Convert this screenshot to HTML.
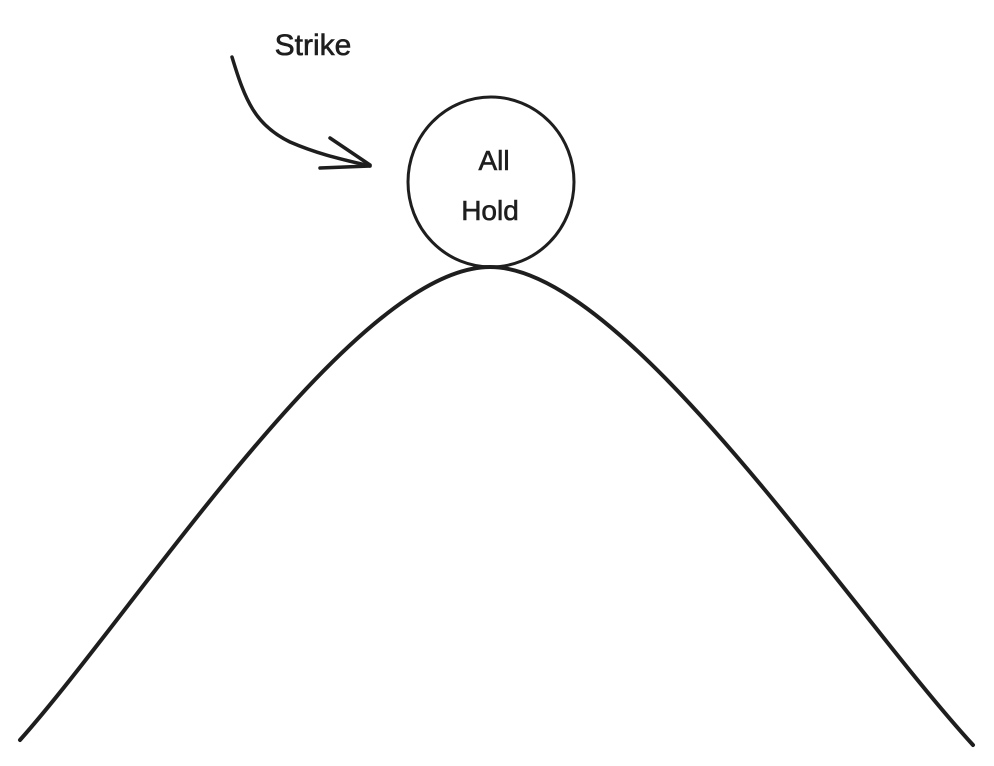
<!DOCTYPE html>
<html><head><meta charset="utf-8"><style>
html,body{margin:0;padding:0;background:#fff;}
svg{display:block}
text{font-family:"Liberation Sans",sans-serif;fill:#1e1e1e;stroke:#1e1e1e;stroke-width:0.6}
</style></head><body>
<svg width="994" height="766" viewBox="0 0 994 766">
  <path d="M20,740 C140,605 355,267 490,267 C625,267 845,605 973,745" fill="none" stroke="#1e1e1e" stroke-width="4" stroke-linecap="round"/>
  <ellipse cx="491" cy="182" rx="83" ry="85" fill="none" stroke="#1e1e1e" stroke-width="3"/>
  <text x="494" y="170" font-size="28" text-anchor="middle">All</text>
  <text x="490" y="220" font-size="28" text-anchor="middle">Hold</text>
  <text x="313" y="55" font-size="30" text-anchor="middle">Strike</text>
  <path d="M232,57 C245,100 255,125 290,142 C320,155 345,160 370,166" fill="none" stroke="#1e1e1e" stroke-width="3.5" stroke-linecap="round"/>
  <path d="M330,138 L370,165 M320,168 L370,166" fill="none" stroke="#1e1e1e" stroke-width="3.5" stroke-linecap="round"/>
</svg>
</body></html>
